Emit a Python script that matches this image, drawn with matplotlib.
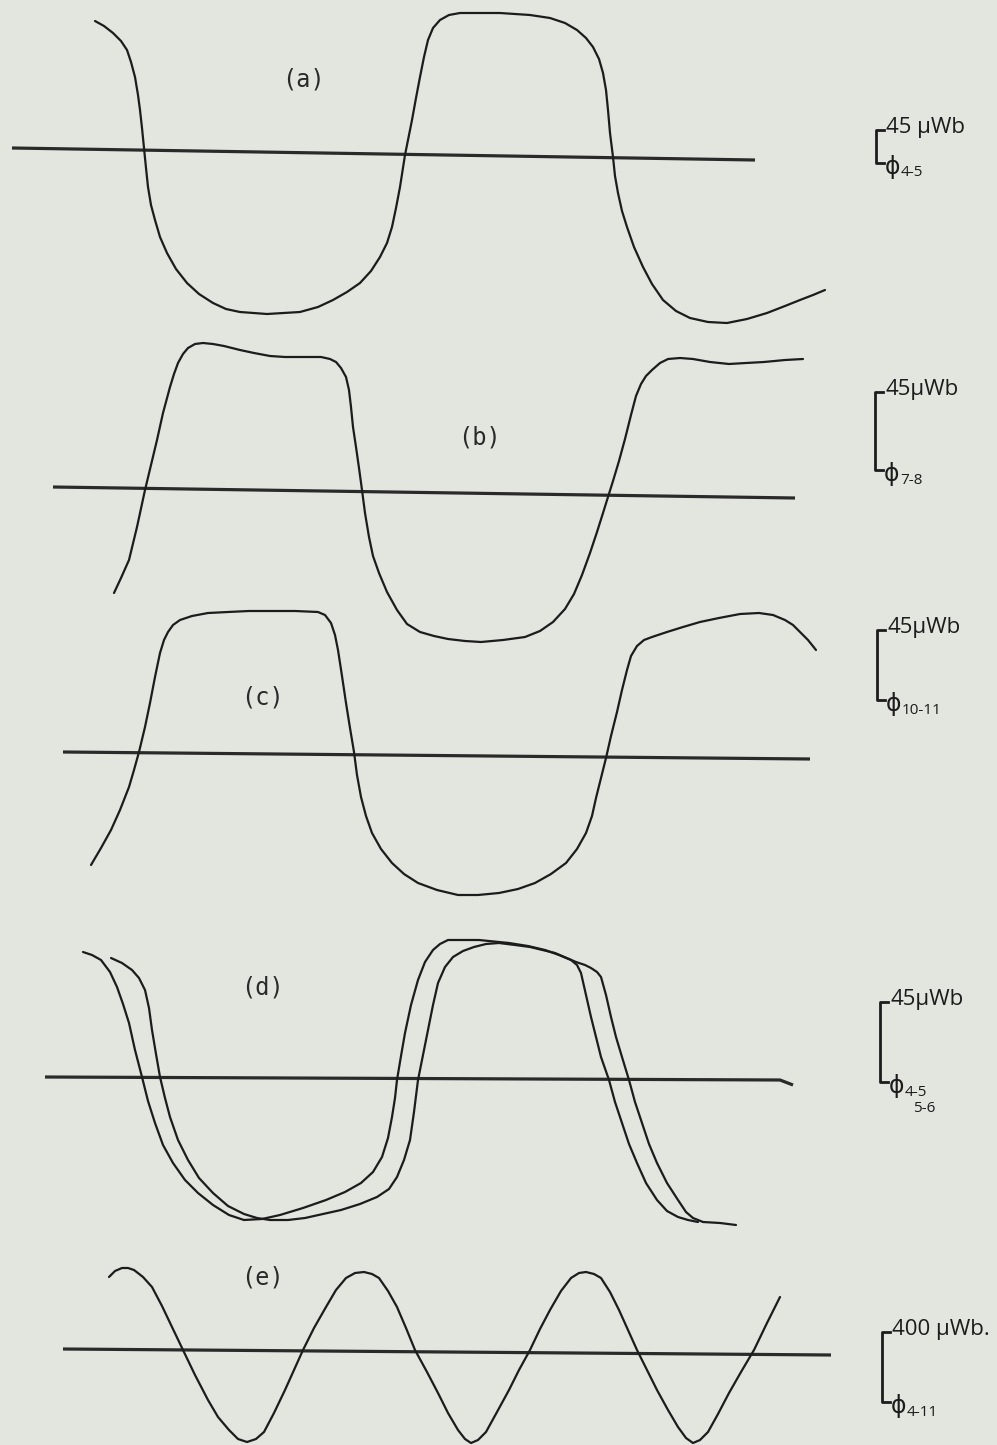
import matplotlib.pyplot as plt

# Flux traces from the recorder chart.
# t   : sweep position (chart units)
# phi : deflection from the trace's zero line (chart units, + up)

# (a) phi 4-5
a_t = [95, 104, 113, 121, 127, 131, 135, 138, 140, 142, 144, 146, 148, 151, 155, 160,
       167, 176, 187, 199, 213, 226, 240, 267, 300, 318, 333, 347, 360, 371, 380, 387,
       392, 396, 400, 405, 412, 416, 420, 424, 428, 433, 440, 449, 460, 500, 530, 550,
       565, 577, 586, 593, 599, 603, 606, 608, 610, 613, 615, 618, 622, 627, 634, 643,
       652, 663, 676, 690, 708, 727, 747, 767, 785, 800, 813, 825]
a_phi = [127, 122, 115, 107, 98, 86, 71, 53, 38, 20, 0, -20, -39, -57, -72, -89,
         -105, -121, -135, -146, -155, -161, -164, -166, -164, -159, -152, -144, -135, -123, -109, -95,
         -79, -60, -39, -7, 28, 50, 71, 91, 108, 120, 128, 133, 135, 135, 133, 130,
         125, 118, 110, 101, 89, 75, 58, 38, 15, -9, -28, -45, -63, -79, -99, -119,
         -136, -152, -163, -170, -174, -175, -171, -165, -158, -152, -147, -142]
a_zero_t = [12, 755]
a_zero_phi = [0, -12]

# (b) phi 7-8
b_t = [114, 121, 129, 137, 145, 151, 157, 163, 170, 174, 178, 183, 188, 195, 203, 213,
       224, 240, 254, 270, 285, 305, 321, 330, 336, 341, 346, 349, 351, 353, 356, 359,
       362, 365, 369, 373, 379, 387, 397, 407, 420, 434, 448, 465, 481, 503, 525, 540,
       553, 565, 574, 582, 590, 597, 603, 608, 613, 619, 625, 631, 636, 641, 646, 652,
       660, 668, 680, 693, 710, 729, 746, 764, 785, 803]
b_phi = [-106, -91, -73, -40, -3, 22, 47, 74, 100, 113, 124, 133, 139, 143, 144, 143,
         141, 137, 134, 131, 130, 130, 130, 128, 125, 119, 110, 97, 80, 60, 40, 19,
         -3, -26, -50, -69, -86, -105, -123, -137, -145, -149, -152, -154, -155, -153, -150, -144,
         -135, -122, -107, -88, -66, -45, -26, -10, 6, 26, 48, 72, 91, 103, 111, 117,
         124, 128, 129, 128, 125, 123, 124, 125, 127, 128]
b_zero_t = [53, 795]
b_zero_phi = [0, -11]

# (c) phi 10-11
c_t = [91, 101, 111, 120, 129, 134, 139, 145, 150, 155, 160, 164, 168, 173, 180, 192,
       208, 228, 249, 295, 318, 325, 331, 335, 338, 342, 346, 350, 354, 357, 361, 366,
       372, 381, 392, 404, 418, 437, 458, 478, 499, 518, 535, 551, 566, 577, 586, 592,
       596, 601, 606, 611, 617, 622, 627, 631, 637, 644, 652, 667, 683, 700, 719, 740,
       759, 773, 785, 793, 800, 808, 816]
c_phi = [-113, -96, -78, -58, -35, -18, 0, 25, 49, 75, 99, 112, 120, 127, 132, 136,
         139, 140, 141, 141, 140, 137, 129, 117, 102, 76, 49, 24, 0, -23, -45, -64,
         -81, -97, -111, -122, -131, -138, -143, -143, -141, -137, -131, -122, -111, -97, -81, -64,
         -46, -26, -6, 16, 40, 62, 82, 96, 106, 112, 115, 120, 125, 130, 134, 138,
         139, 137, 132, 127, 120, 112, 102]
c_zero_t = [63, 810]
c_zero_phi = [0, -7]

# (d) phi 4-5 and phi 5-6 on the same sweep
d1_t = [83, 92, 101, 110, 117, 123, 129, 135, 142, 148, 155, 163, 173, 185, 198, 213,
        229, 244, 262, 280, 303, 326, 345, 361, 373, 382, 388, 392, 395, 397, 401, 405,
        411, 418, 425, 433, 440, 448, 479, 509, 528, 545, 559, 571, 577, 581, 586, 591,
        596, 601, 609, 615, 622, 629, 637, 646, 657, 667, 678, 688, 698]
d1_phi = [125, 122, 117, 105, 90, 73, 54, 27, 0, -24, -46, -68, -86, -103, -116, -128,
          -138, -143, -142, -138, -131, -123, -115, -106, -95, -80, -61, -40, -21, -3, 21, 44,
          72, 97, 115, 127, 133, 137, 137, 134, 131, 127, 122, 117, 112, 104, 82, 60,
          40, 20, -3, -25, -46, -67, -86, -106, -123, -134, -140, -143, -145]
d2_t = [111, 122, 132, 139, 145, 149, 152, 156, 160, 165, 170, 178, 188, 199, 213, 228,
        244, 257, 270, 288, 305, 323, 341, 360, 377, 389, 397, 404, 410, 414, 418, 423,
        428, 433, 438, 445, 453, 463, 474, 486, 499, 515, 530, 555, 576, 585, 591, 597,
        601, 606, 611, 616, 622, 629, 635, 642, 649, 657, 667, 678, 686, 693, 703, 720,
        736]
d2_phi = [119, 114, 107, 99, 87, 69, 47, 23, 0, -21, -40, -63, -83, -101, -116, -129,
          -137, -141, -143, -143, -141, -137, -133, -127, -120, -112, -100, -83, -63, -35, -3, 22,
          47, 72, 94, 110, 120, 126, 130, 133, 134, 132, 130, 124, 115, 112, 109, 105,
          100, 82, 60, 40, 20, -3, -25, -46, -67, -86, -106, -123, -135, -141, -145, -146,
          -148]
d_zero_t = [45, 780, 793]
d_zero_phi = [0, -3, -8]

# (e) phi 4-11
e_t = [109, 115, 122, 128, 134, 143, 152, 162, 172, 183, 195, 208, 218, 229, 238, 247,
       256, 264, 274, 285, 294, 303, 314, 326, 336, 346, 355, 364, 372, 379, 388, 397,
       406, 415, 427, 438, 448, 458, 465, 471, 478, 486, 497, 509, 519, 530, 540, 550,
       561, 571, 579, 586, 594, 601, 610, 619, 628, 637, 647, 657, 668, 678, 686, 693,
       700, 708, 718, 729, 741, 754, 767, 780]
e_phi = [72, 78, 81, 81, 79, 72, 62, 43, 22, -1, -26, -51, -68, -81, -90, -93,
         -90, -83, -64, -41, -21, -1, 21, 42, 59, 71, 76, 77, 75, 71, 58, 42,
         21, -1, -23, -44, -64, -81, -90, -94, -91, -83, -63, -41, -21, -1, 20, 39,
         58, 71, 76, 77, 75, 71, 57, 39, 19, -1, -21, -41, -61, -78, -89, -94,
         -91, -83, -65, -44, -23, -1, 26, 52]
e_zero_t = [63, 831]
e_zero_phi = [0, -6]

panel_tags = ["(a)", "(b)", "(c)", "(d)", "(e)"]
scale_values = ["45 µWb", "45µWb", "45µWb", "45µWb", "400 µWb."]
scale_subs = [["4-5"], ["7-8"], ["10-11"], ["4-5", "5-6"], ["4-11"]]
scale_lengths = [33, 78, 70, 80, 70]

# layout (pixels on the sheet)
W, H = 997, 1445
zero_rows = [148, 487, 752, 1077, 1349]
tag_pos = [(303, 68), (479, 50), (262, 55), (262, 89), (262, 72)]
bar_x = [876, 875, 877, 880, 882]
bar_bottom = [-15, 17, 52, -5, -53]

paper = "#e2e6de"
ink = "#1c1c1c"

fig = plt.figure(figsize=(W / 100, H / 100), dpi=100)
fig.patch.set_facecolor(paper)

traces = [
    [(a_t, a_phi)],
    [(b_t, b_phi)],
    [(c_t, c_phi)],
    [(d1_t, d1_phi), (d2_t, d2_phi)],
    [(e_t, e_phi)],
]
zeros = [(a_zero_t, a_zero_phi), (b_zero_t, b_zero_phi), (c_zero_t, c_zero_phi),
         (d_zero_t, d_zero_phi), (e_zero_t, e_zero_phi)]

hand = ["Open Sans", "DejaVu Sans"]

for i in range(5):
    ax = fig.add_axes([0, 0, 1, 1])
    ax.set_xlim(0, W)
    ax.set_ylim(zero_rows[i] - H, zero_rows[i])
    ax.axis("off")
    ax.patch.set_alpha(0)

    # zero line
    zt, zp = zeros[i]
    ax.plot(zt, zp, color="#2a2a2a", lw=2.3, solid_capstyle="butt")

    # flux trace(s)
    for t, phi in traces[i]:
        ax.plot(t, phi, color=ink, lw=1.6, solid_joinstyle="round",
                solid_capstyle="round")

    # panel tag, typewriter style
    tx, ty = tag_pos[i]
    ax.text(tx, ty, panel_tags[i], family="DejaVu Sans Mono", fontsize=17,
            ha="center", va="center", color="#2a2a2a")

    # scale bar with hand-written value and trace name
    x0 = bar_x[i]
    y0 = bar_bottom[i]
    y1 = y0 + scale_lengths[i]
    ax.plot([x0 + 8, x0, x0, x0 + 8], [y1, y1, y0, y0], color=ink, lw=2.0)
    ax.text(x0 + 10, y1 + 3, scale_values[i], family=hand, fontsize=16,
            ha="left", va="center", color=ink)
    ax.text(x0 + 9, y0 - 5, "ϕ", family=hand, fontsize=17,
            ha="left", va="center", color=ink)
    for k, sub in enumerate(scale_subs[i]):
        ax.text(x0 + 25 + 8 * k, y0 - 10 - 16 * k, sub, family=hand, fontsize=11,
                ha="left", va="center", color=ink)

fig.savefig("out.png", dpi=100, facecolor=paper)
